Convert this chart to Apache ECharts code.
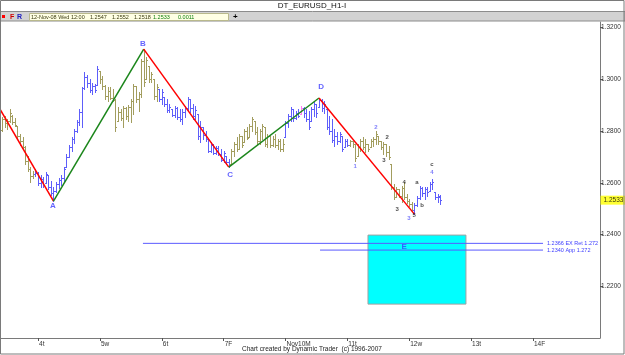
<!DOCTYPE html>
<html>
<head>
<meta charset="utf-8">
<title>DT_EURUSD_H1-I</title>
<script src="https://cdn.jsdelivr.net/npm/echarts@6/dist/echarts.min.js"></script>
<style>
    html, body { margin: 0; padding: 0; background: #ffffff; }
    #chart { width: 625px; height: 355px; }
</style>
</head>
<body>
<div id="chart"></div>
<script>
// hourly bars, hour 0 = 4-Nov 00:00, first bar is 3-Nov 10:00
var firstHour = -14;

var opens = [
    1.2805, 1.2845, 1.2830, 1.2840, 1.2860, 1.2835, 1.2819, 1.2780, 1.2760, 1.2740,
    1.2685, 1.2655, 1.2625, 1.2635, 1.2640, 1.2600, 1.2615, 1.2600, 1.2630, 1.2585,
    1.2560, 1.2570, 1.2595, 1.2610, 1.2620, 1.2661, 1.2700, 1.2740, 1.2770, 1.2800,
    1.2835, 1.2875, 1.2965, 1.3010, 1.2985, 1.2960, 1.2975, 1.2978, 1.3032, 1.3000,
    1.2975, 1.2935, 1.2955, 1.2930, 1.2920, 1.2839, 1.2875, 1.2850, 1.2890, 1.2860,
    1.2895, 1.2915, 1.2974, 1.2925, 1.2945, 1.3070, 1.3001, 1.3052, 1.3000, 1.3001,
    1.2935, 1.2963, 1.2925, 1.2932, 1.2905, 1.2880, 1.2885, 1.2862, 1.2890, 1.2855,
    1.2845, 1.2875, 1.2890, 1.2924, 1.2890, 1.2860, 1.2866, 1.2780, 1.2815, 1.2785,
    1.2769, 1.2725, 1.2745, 1.2715, 1.2735, 1.2710, 1.2690, 1.2703, 1.2680, 1.2672,
    1.2725, 1.2750, 1.2730, 1.2780, 1.2757, 1.2800, 1.2777, 1.2820, 1.2839, 1.2795,
    1.2760, 1.2800, 1.2815, 1.2750, 1.2780, 1.2745, 1.2770, 1.2745, 1.2760, 1.2730,
    1.2777, 1.2830, 1.2860, 1.2885, 1.2850, 1.2870, 1.2866, 1.2890, 1.2870, 1.2845,
    1.2839, 1.2885, 1.2904, 1.2893, 1.2920, 1.2890, 1.2885, 1.2815, 1.2800, 1.2765,
    1.2780, 1.2760, 1.2781, 1.2738, 1.2760, 1.2745, 1.2760, 1.2750, 1.2703, 1.2740,
    1.2760, 1.2740, 1.2750, 1.2738, 1.2760, 1.2770, 1.2781, 1.2760, 1.2740, 1.2750,
    1.2720, 1.2672, 1.2585, 1.2545, 1.2575, 1.2550, 1.2580, 1.2545, 1.2530, 1.2520,
    1.2495, 1.2515, 1.2540, 1.2580, 1.2560, 1.2575, 1.2568, 1.2595, 1.2564, 1.2545, 1.2547
];
var highs = [
    1.2854, 1.2858, 1.2846, 1.2885, 1.2862, 1.2850, 1.2819, 1.2788, 1.2777, 1.2742,
    1.2703, 1.2661, 1.2645, 1.2653, 1.2641, 1.2630, 1.2622, 1.2641, 1.2630, 1.2607,
    1.2583, 1.2603, 1.2618, 1.2630, 1.2661, 1.2711, 1.2746, 1.2777, 1.2808, 1.2843,
    1.2885, 1.2970, 1.3028, 1.3017, 1.3001, 1.2986, 1.2982, 1.3052, 1.3032, 1.3013,
    1.2978, 1.2970, 1.2970, 1.2963, 1.2924, 1.2893, 1.2885, 1.2897, 1.2893, 1.2901,
    1.2924, 1.2982, 1.2974, 1.2951, 1.3079, 1.3117, 1.3086, 1.3052, 1.3028, 1.3001,
    1.2982, 1.2963, 1.2963, 1.2932, 1.2924, 1.2904, 1.2885, 1.2897, 1.2893, 1.2885,
    1.2885, 1.2897, 1.2932, 1.2924, 1.2904, 1.2897, 1.2866, 1.2839, 1.2815, 1.2800,
    1.2769, 1.2757, 1.2750, 1.2742, 1.2742, 1.2730, 1.2723, 1.2703, 1.2692, 1.2730,
    1.2757, 1.2777, 1.2788, 1.2781, 1.2808, 1.2815, 1.2827, 1.2854, 1.2839, 1.2815,
    1.2808, 1.2827, 1.2815, 1.2788, 1.2781, 1.2781, 1.2788, 1.2769, 1.2769, 1.2769,
    1.2839, 1.2866, 1.2893, 1.2885, 1.2877, 1.2885, 1.2897, 1.2893, 1.2885, 1.2877,
    1.2893, 1.2912, 1.2904, 1.2928, 1.2924, 1.2916, 1.2885, 1.2858, 1.2846, 1.2808,
    1.2796, 1.2796, 1.2781, 1.2769, 1.2769, 1.2765, 1.2761, 1.2750, 1.2750, 1.2769,
    1.2777, 1.2769, 1.2750, 1.2769, 1.2777, 1.2800, 1.2781, 1.2761, 1.2757, 1.2750,
    1.2742, 1.2672, 1.2595, 1.2583, 1.2576, 1.2587, 1.2603, 1.2556, 1.2537, 1.2525,
    1.2521, 1.2548, 1.2587, 1.2583, 1.2583, 1.2583, 1.2603, 1.2614, 1.2564, 1.2556, 1.2552
];
var lows = [
    1.2800, 1.2815, 1.2808, 1.2835, 1.2827, 1.2819, 1.2769, 1.2746, 1.2730, 1.2672,
    1.2645, 1.2603, 1.2618, 1.2626, 1.2591, 1.2583, 1.2583, 1.2599, 1.2576, 1.2552,
    1.2529, 1.2564, 1.2580, 1.2591, 1.2607, 1.2661, 1.2699, 1.2723, 1.2754, 1.2796,
    1.2823, 1.2815, 1.2963, 1.2970, 1.2951, 1.2943, 1.2951, 1.2978, 1.2986, 1.2963,
    1.2924, 1.2916, 1.2924, 1.2916, 1.2800, 1.2839, 1.2843, 1.2815, 1.2846, 1.2839,
    1.2835, 1.2866, 1.2912, 1.2877, 1.2932, 1.2974, 1.3001, 1.2990, 1.2990, 1.2924,
    1.2916, 1.2916, 1.2904, 1.2897, 1.2874, 1.2874, 1.2858, 1.2854, 1.2846, 1.2839,
    1.2827, 1.2854, 1.2877, 1.2874, 1.2846, 1.2846, 1.2769, 1.2757, 1.2769, 1.2761,
    1.2719, 1.2719, 1.2711, 1.2711, 1.2707, 1.2684, 1.2680, 1.2672, 1.2661, 1.2672,
    1.2703, 1.2723, 1.2730, 1.2738, 1.2757, 1.2769, 1.2777, 1.2800, 1.2788, 1.2750,
    1.2750, 1.2769, 1.2742, 1.2738, 1.2738, 1.2742, 1.2738, 1.2730, 1.2723, 1.2723,
    1.2777, 1.2815, 1.2839, 1.2839, 1.2846, 1.2854, 1.2866, 1.2854, 1.2839, 1.2808,
    1.2839, 1.2858, 1.2854, 1.2893, 1.2877, 1.2870, 1.2808, 1.2788, 1.2757, 1.2742,
    1.2750, 1.2757, 1.2723, 1.2738, 1.2742, 1.2742, 1.2738, 1.2684, 1.2703, 1.2723,
    1.2730, 1.2719, 1.2723, 1.2738, 1.2742, 1.2750, 1.2750, 1.2730, 1.2711, 1.2703,
    1.2692, 1.2576, 1.2537, 1.2545, 1.2545, 1.2525, 1.2537, 1.2521, 1.2510, 1.2490,
    1.2479, 1.2510, 1.2537, 1.2548, 1.2537, 1.2548, 1.2568, 1.2576, 1.2537, 1.2525, 1.2518
];
var closes = [
    1.2845, 1.2830, 1.2840, 1.2870, 1.2835, 1.2825, 1.2780, 1.2760, 1.2740, 1.2685,
    1.2655, 1.2625, 1.2635, 1.2640, 1.2600, 1.2615, 1.2590, 1.2635, 1.2585, 1.2560,
    1.2570, 1.2595, 1.2610, 1.2620, 1.2655, 1.2700, 1.2740, 1.2770, 1.2800, 1.2835,
    1.2875, 1.2965, 1.3010, 1.2985, 1.2960, 1.2975, 1.2960, 1.3040, 1.3000, 1.2975,
    1.2935, 1.2955, 1.2930, 1.2920, 1.2815, 1.2875, 1.2850, 1.2890, 1.2860, 1.2895,
    1.2915, 1.2975, 1.2925, 1.2945, 1.3070, 1.2990, 1.3075, 1.3000, 1.3020, 1.2935,
    1.2970, 1.2925, 1.2950, 1.2905, 1.2880, 1.2895, 1.2862, 1.2890, 1.2855, 1.2845,
    1.2875, 1.2890, 1.2925, 1.2890, 1.2860, 1.2880, 1.2780, 1.2815, 1.2785, 1.2770,
    1.2725, 1.2745, 1.2715, 1.2735, 1.2710, 1.2690, 1.2715, 1.2680, 1.2670, 1.2725,
    1.2750, 1.2730, 1.2780, 1.2745, 1.2800, 1.2775, 1.2820, 1.2845, 1.2795, 1.2760,
    1.2800, 1.2820, 1.2750, 1.2780, 1.2745, 1.2770, 1.2745, 1.2760, 1.2730, 1.2750,
    1.2830, 1.2860, 1.2885, 1.2850, 1.2870, 1.2860, 1.2890, 1.2870, 1.2845, 1.2815,
    1.2885, 1.2905, 1.2870, 1.2920, 1.2890, 1.2905, 1.2815, 1.2800, 1.2765, 1.2780,
    1.2760, 1.2790, 1.2730, 1.2760, 1.2745, 1.2760, 1.2750, 1.2695, 1.2740, 1.2760,
    1.2740, 1.2750, 1.2730, 1.2760, 1.2770, 1.2790, 1.2760, 1.2740, 1.2750, 1.2720,
    1.2700, 1.2585, 1.2545, 1.2575, 1.2550, 1.2580, 1.2545, 1.2530, 1.2520, 1.2495,
    1.2515, 1.2540, 1.2580, 1.2560, 1.2575, 1.2565, 1.2595, 1.2605, 1.2545, 1.2550, 1.2533
];

// bar colouring runs (index where each run starts)
var toneStarts = [0, 13, 38, 61, 89, 110, 135, 160];
var toneKinds = ["tan", "blue", "tan", "blue", "tan", "blue", "tan", "blue"];
var pinkBars = [116];

// x axis day ticks (hours from 4-Nov 00:00)
var dayTicks = [0, 24, 48, 72, 96, 120, 144, 168, 192];
var dayLabels = ["4t", "5w", "6t", "7F", "Nov10M", "11t", "12w", "13t", "14F"];

// wave pivots: bar index + which end of the bar
var pivotBars = [20, 55, 88, 123, 160];
var pivotEnds = ["low", "high", "low", "high", "low"];
var waveStart = [-14.75, 1.2885];

// annotations [hour, price]
var letterText = ["A", "B", "C", "D", "E"];
var letterPos = [[5.8, 1.2510], [40.7, 1.3137], [74.5, 1.2630], [109.8, 1.2970], [142, 1.2351]];
var countText = ["1", "2", "2", "3", "4", "3", "5", "3", "a", "b", "c", "4"];
var countPos = [[123, 1.2665], [131.1, 1.2815], [135.4, 1.2777], [134.2, 1.2688], [142, 1.2603],
    [139.3, 1.2498], [145.9, 1.2475], [143.9, 1.2463], [147, 1.2603], [149, 1.2514],
    [152.8, 1.2670], [152.8, 1.2641]];
var countTone = ["blue", "blue", "black", "black", "black", "black", "black", "blue", "black", "black", "black", "blue"];

// projection lines and target box
var targetLevels = [1.2366, 1.2340];
var targetNames = ["EX Ret 1.272", "App 1.272"];
var targetFrom = [40.7, 109.4];
var targetTo = 195.9;
var zoneCorners = [[128, 1.2398], [166, 1.2131]];

var lastChange = "0.0011";

(function () {
    var myChart = echarts.init(document.getElementById("chart"));
    var font = "Liberation Sans";
    var xMin = -14.75, xMax = 218;
    var colors = { tan: "#a29d5e", blue: "#5e5efa", pink: "#ff7cf0", red: "#ff0000", green: "#1b861b", black: "#222222", label: "#3c3cff" };

    // build bar data
    var bars = [];
    var run = 0;
    for (var i = 0; i < opens.length; i++) {
        while (run + 1 < toneStarts.length && i >= toneStarts[run + 1]) run++;
        var kind = pinkBars.indexOf(i) >= 0 ? "pink" : toneKinds[run];
        bars.push([firstHour + i, opens[i], highs[i], lows[i], closes[i], kind]);
    }
    var last = opens.length - 1;

    function renderBar(params, api) {
        var h = api.value(0);
        var pH = api.coord([h, api.value(2)]);
        var pL = api.coord([h, api.value(3)]);
        var pO = api.coord([h, api.value(1)]);
        var pC = api.coord([h, api.value(4)]);
        var x = Math.round(pH[0]) + 0.5;
        var st = { stroke: colors[bars[params.dataIndex][5]], lineWidth: 1 };
        var yo = Math.round(pO[1]) + 0.5, yc = Math.round(pC[1]) + 0.5;
        return {
            type: "group",
            children: [
                { type: "line", shape: { x1: x, y1: Math.round(pH[1]), x2: x, y2: Math.round(pL[1]) + 1 }, style: st },
                { type: "line", shape: { x1: x - 1.5, y1: yo, x2: x, y2: yo }, style: st },
                { type: "line", shape: { x1: x, y1: yc, x2: x + 1.5, y2: yc }, style: st }
            ]
        };
    }

    // wave legs
    var pts = [waveStart];
    for (var k = 0; k < pivotBars.length; k++) {
        var b = pivotBars[k];
        pts.push([firstHour + b, pivotEnds[k] === "low" ? lows[b] : highs[b]]);
    }
    var legSeries = [];
    for (var j = 0; j < pts.length - 1; j++) {
        legSeries.push({
            type: "line",
            data: [pts[j], pts[j + 1]],
            symbol: "none",
            silent: true,
            z: 4,
            lineStyle: { color: j % 2 === 0 ? colors.red : colors.green, width: 1.5 }
        });
    }

    // projection levels, drawn as plain two-point lines with an end label
    var targetSeries = targetLevels.map(function (lvl, i) {
        return {
            type: "line",
            data: [[targetFrom[i], lvl], [targetTo, lvl]],
            symbol: "none",
            silent: true,
            z: 3,
            lineStyle: { color: "#5a5aff", width: 1 },
            endLabel: {
                show: true,
                formatter: lvl.toFixed(4) + " " + targetNames[i],
                color: "#3c3cff",
                fontSize: 5.5,
                fontFamily: font,
                distance: 4
            }
        };
    });

    var letterData = letterText.map(function (t, i) {
        return { value: letterPos[i], name: t };
    });
    var countData = countText.map(function (t, i) {
        return { value: countPos[i], name: t, label: { color: colors[countTone[i]] } };
    });

    var option = {
        backgroundColor: "#ffffff",
        animation: false,
        grid: { left: 0, right: 25, top: 22, bottom: 17 },
        xAxis: {
            type: "value",
            min: xMin,
            max: xMax,
            axisLine: { onZero: false, lineStyle: { color: "#7a7a7a", width: 1 } },
            axisTick: { show: true, customValues: dayTicks, length: 3, lineStyle: { color: "#555" } },
            axisLabel: {
                customValues: dayTicks,
                formatter: function (v) { return dayLabels[dayTicks.indexOf(v)]; },
                align: "left",
                margin: 3,
                padding: [0, 0, 0, 1],
                fontSize: 6.5,
                fontFamily: font,
                color: "#333"
            },
            splitLine: { show: false }
        },
        yAxis: {
            type: "value",
            position: "right",
            min: 1.20,
            max: 1.3222,
            interval: 0.02,
            axisLine: { show: true, onZero: false, lineStyle: { color: "#7a7a7a" } },
            axisTick: { show: true, length: 3, lineStyle: { color: "#555" } },
            axisLabel: {
                formatter: function (v) { return v.toFixed(4); },
                showMinLabel: false,
                showMaxLabel: false,
                margin: 1,
                fontSize: 6.5,
                fontFamily: font,
                color: "#333"
            },
            splitLine: { show: false }
        },
        series: [
            {
                // target zone E
                type: "line",
                data: [],
                z: 1,
                silent: true,
                markArea: {
                    silent: true,
                    itemStyle: { color: "#00ffff", borderColor: "#a0a0a0", borderWidth: 1, opacity: 1 },
                    data: [[{ coord: zoneCorners[0] }, { coord: zoneCorners[1] }]]
                }
            },
            {
                type: "custom",
                renderItem: renderBar,
                data: bars,
                encode: { x: 0, y: [1, 2, 3, 4] },
                silent: true,
                z: 2
            }
        ].concat(targetSeries).concat(legSeries).concat([
            {
                type: "scatter",
                data: letterData,
                symbolSize: 1,
                itemStyle: { color: "transparent" },
                silent: true,
                z: 6,
                label: {
                    show: true, position: "inside", formatter: "{b}",
                    color: colors.label, fontWeight: "bold", fontSize: 8, fontFamily: font
                }
            },
            {
                type: "scatter",
                data: countData,
                symbolSize: 1,
                itemStyle: { color: "transparent" },
                silent: true,
                z: 6,
                label: {
                    show: true, position: "inside", formatter: "{b}",
                    fontWeight: "bold", fontSize: 6, fontFamily: font
                }
            },
            {
                // current price tag on the right axis
                type: "scatter",
                data: [[xMax, closes[last]]],
                symbolSize: 1,
                itemStyle: { color: "transparent" },
                clip: false,
                silent: true,
                z: 7,
                label: {
                    show: true, position: "right", distance: 0,
                    formatter: closes[last].toFixed(4),
                    backgroundColor: "#ffff00", color: "#000", fontSize: 6.5, fontFamily: font,
                    padding: [1, 5, 1, 3]
                }
            }
        ]),
        graphic: [
            { type: "rect", silent: true, z: 50, shape: { x: 0, y: 11.5, width: 625, height: 9.5 }, style: { fill: "#d2d2d2", stroke: "#8c8c8c", lineWidth: 1 } },
            { type: "rect", silent: true, z: 51, shape: { x: 29.5, y: 13.5, width: 199, height: 7 }, style: { fill: "#ffffe4", stroke: "#b9b98c" } },
            { type: "rect", silent: true, z: 51, shape: { x: 2, y: 15, width: 3, height: 3 }, style: { fill: "#ff0000" } },
            { type: "text", silent: true, z: 51, x: 10, y: 17, style: { text: "F", fill: "#d00000", font: "bold 7px " + font, textVerticalAlign: "middle" } },
            { type: "text", silent: true, z: 51, x: 17, y: 17, style: { text: "R", fill: "#2020c0", font: "bold 7px " + font, textVerticalAlign: "middle" } },
            { type: "text", silent: true, z: 52, x: 31, y: 17.5, style: { text: "12-Nov-08 Wed 12:00", fill: "#3a3a10", font: "5.5px " + font, textVerticalAlign: "middle" } },
            { type: "text", silent: true, z: 52, x: 90, y: 17.5, style: { text: opens[last].toFixed(4), fill: "#3a3a10", font: "5.5px " + font, textVerticalAlign: "middle" } },
            { type: "text", silent: true, z: 52, x: 112, y: 17.5, style: { text: highs[last].toFixed(4), fill: "#3a3a10", font: "5.5px " + font, textVerticalAlign: "middle" } },
            { type: "text", silent: true, z: 52, x: 134, y: 17.5, style: { text: lows[last].toFixed(4), fill: "#3a3a10", font: "5.5px " + font, textVerticalAlign: "middle" } },
            { type: "text", silent: true, z: 52, x: 153, y: 17.5, style: { text: closes[last].toFixed(4), fill: "#108010", font: "5.5px " + font, textVerticalAlign: "middle" } },
            { type: "text", silent: true, z: 52, x: 178, y: 17.5, style: { text: lastChange, fill: "#108010", font: "5.5px " + font, textVerticalAlign: "middle" } },
            { type: "text", silent: true, z: 52, x: 233, y: 17, style: { text: "+", fill: "#000", font: "bold 8px " + font, textVerticalAlign: "middle" } },
            { type: "text", silent: true, z: 52, x: 312, y: 5.5, style: { text: "DT_EURUSD_H1-I", fill: "#111", font: "8px " + font, textAlign: "center", textVerticalAlign: "middle" } },
            { type: "text", silent: true, z: 52, x: 312, y: 349, style: { text: "Chart created by Dynamic Trader  (c) 1996-2007", fill: "#222", font: "6.5px " + font, textAlign: "center", textVerticalAlign: "middle" } },
            { type: "rect", silent: true, z: 60, shape: { x: 0.5, y: 0.5, width: 623.5, height: 353.5 }, style: { fill: "none", stroke: "#7a7a7a", lineWidth: 1 } }
        ]
    };

    myChart.setOption(option);
    window.addEventListener("resize", function () {
        myChart.resize();
    });
})();
</script>
</body>
</html>
